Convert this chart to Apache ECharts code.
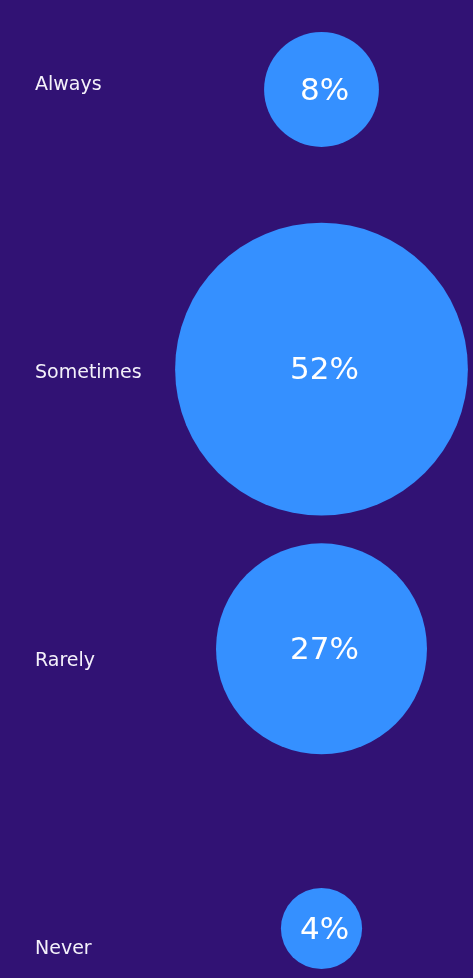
<!DOCTYPE html>
<html>
<head>
<meta charset="utf-8">
<script src="https://cdn.jsdelivr.net/npm/echarts@6/dist/echarts.min.js"></script>
<style>
html,body{margin:0;padding:0;background:#311274;}
#chart{width:473px;height:978px;}
</style>
</head>
<body>
<div id="chart"></div>
<script>
var categories = ['Always', 'Sometimes', 'Rarely', 'Never'];
var values = [8, 52, 27, 4];

var chart = echarts.init(document.getElementById('chart'));
var fontFamily = '"DejaVu Sans", "Noto Sans", sans-serif';
chart.setOption({
  backgroundColor: '#311274',
  animation: false,
  grid: [
    {left: 35, right: 0, top: 85, height: 864, containLabel: false},
    {left: 170, width: 303, top: 89.5, height: 839}
  ],
  xAxis: [
    {gridIndex: 0, type: 'value', show: false, min: 0, max: 1},
    {gridIndex: 1, type: 'value', show: false, min: 0, max: 2}
  ],
  yAxis: [
    {
      gridIndex: 0, type: 'category', data: categories, inverse: true, boundaryGap: false,
      axisLine: {show: false}, axisTick: {show: false}, splitLine: {show: false},
      axisLabel: {inside: true, margin: 0, color: '#f4f1fa', fontSize: 19, fontFamily: fontFamily, align: 'left'}
    },
    {
      gridIndex: 1, type: 'category', data: categories, inverse: true, boundaryGap: false, show: false
    }
  ],
  series: [{
    type: 'scatter',
    xAxisIndex: 1,
    yAxisIndex: 1,
    data: categories.map(function (c, i) { return [1, c, values[i]]; }),
    symbolSize: function (d) { return Math.sqrt(d[2]) * 40.6; },
    itemStyle: {color: '#3590ff', opacity: 1},
    label: {
      show: true, position: 'inside', offset: [3, 2],
      formatter: function (p) { return p.data[2] + '%'; },
      color: '#ffffff', fontSize: 31, fontFamily: fontFamily
    }
  }]
});
</script>
</body>
</html>
